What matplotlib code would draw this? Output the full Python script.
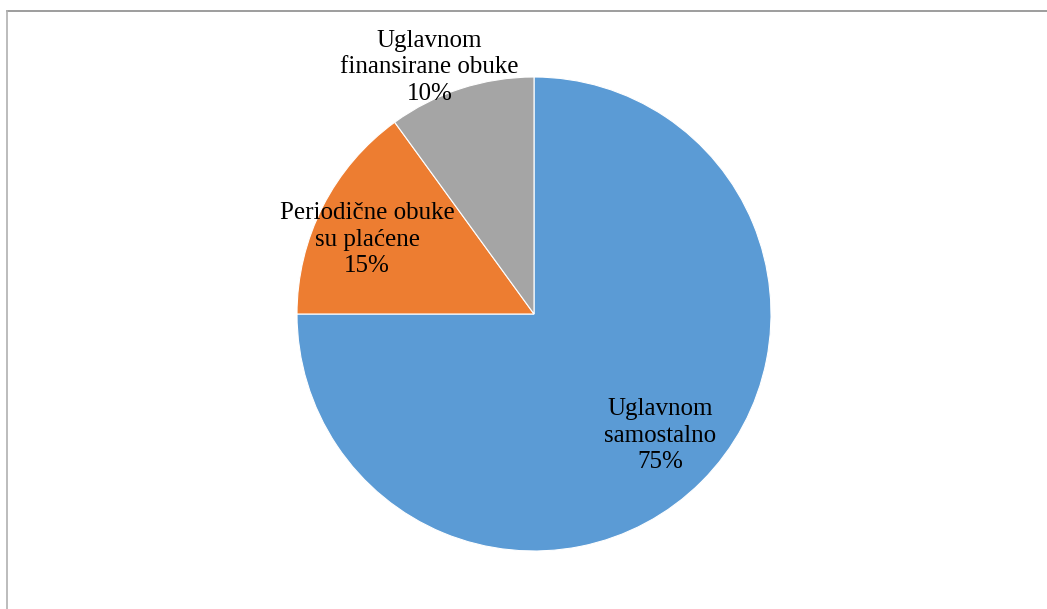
import numpy as np
import matplotlib.pyplot as plt
from matplotlib.lines import Line2D

# data
labels = ['Uglavnom\nsamostalno', 'Periodične obuke\nsu plaćene', 'Uglavnom\nfinansirane obuke']
shares = [75, 15, 10]
colors = ['#5B9BD5', '#ED7D31', '#A5A5A5']
label_dist = [0.74, 0.77, 1.13]
label_shift = [1, 3, 5]  # degrees, nudge label angle off the slice middle

W, H = 1047, 609
fig = plt.figure(figsize=(W / 100, H / 100), dpi=100)
plt.rcParams['font.family'] = ['Liberation Serif', 'DejaVu Serif']

# pie centred at (534, 314) px with radius 237 px
cx, cy, r = 534, 314, 237
ax = fig.add_axes([(cx - r) / W, (H - cy - r) / H, 2 * r / W, 2 * r / H])
wedges, _ = ax.pie(shares, colors=colors, startangle=90, counterclock=False,
                   wedgeprops=dict(edgecolor='white', linewidth=0.8))
ax.set_xlim(-1, 1)
ax.set_ylim(-1, 1)
ax.set_aspect('equal')
ax.axis('off')

for w, lab, s, d, sh in zip(wedges, labels, shares, label_dist, label_shift):
    ang = np.deg2rad((w.theta1 + w.theta2) / 2 + sh)
    ax.text(d * np.cos(ang), d * np.sin(ang), f'{lab}\n{s}%', ha='center', va='center',
            fontsize=18, color='black', linespacing=1.27)

# chart frame (cut off at right and bottom)
fig.add_artist(Line2D([7 / W, 1], [1 - 11 / H, 1 - 11 / H], color='#8c8c8c', lw=1.2))
fig.add_artist(Line2D([7 / W, 7 / W], [0, 1 - 11 / H], color='#b0b0b0', lw=1.2))

fig.savefig('out.png', dpi=100)
